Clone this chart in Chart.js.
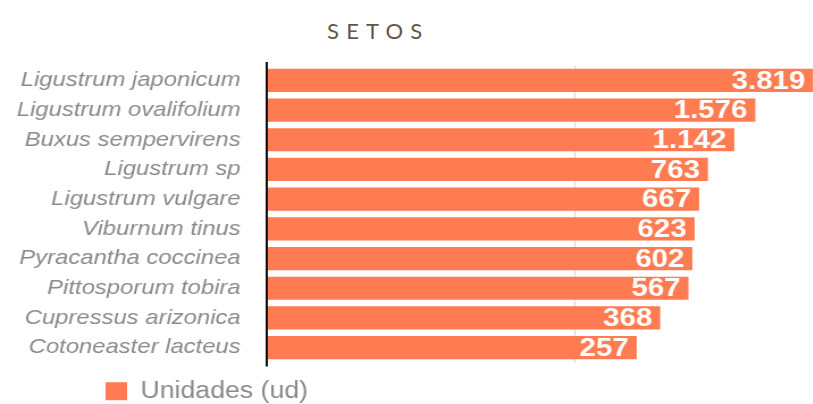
<!DOCTYPE html>
<html>
<head>
<meta charset="utf-8">
<title>Setos</title>
<script src="https://cdn.jsdelivr.net/npm/chart.js@4.4.1/dist/chart.umd.min.js"></script>
<style>
  html, body { margin: 0; padding: 0; background: #fff; overflow: hidden; }
  body { width: 813px; height: 404px; position: relative; }
  #titulo {
    position: absolute; left: 327px; top: 17px;
    font-family: Lato, sans-serif; font-weight: 400; font-size: 22px;
    letter-spacing: 7.2px; color: #62564b; white-space: nowrap;
  }
  /* el gráfico original está algo estirado en horizontal */
  #caja {
    position: absolute; left: 0; top: 0; width: 780px; height: 404px;
    transform: scaleX(1.135); transform-origin: 0 0;
  }
</style>
</head>
<body>
<div id="titulo">SETOS</div>
<div id="caja"><canvas id="grafico"></canvas></div>
<script>
// Datos
const especies = [
  "Ligustrum japonicum",
  "Ligustrum ovalifolium",
  "Buxus sempervirens",
  "Ligustrum sp",
  "Ligustrum vulgare",
  "Viburnum tinus",
  "Pyracantha coccinea",
  "Pittosporum tobira",
  "Cupressus arizonica",
  "Cotoneaster lacteus"
];
const unidades = [3819, 1576, 1142, 763, 667, 623, 602, 567, 368, 257];
const serie = "Unidades (ud)";
const lineasX = [100, 10000];

const naranja = "#ff7b51";
const gris = "#8a8a8a";
const fuente = "'Liberation Sans', Arial, sans-serif";

// Valores en blanco dentro del final de cada barra
const valores = {
  id: "valores",
  afterDatasetsDraw(chart) {
    const ctx = chart.ctx;
    const meta = chart.getDatasetMeta(0);
    ctx.save();
    ctx.font = "bold 26px " + fuente;
    ctx.fillStyle = "#fff";
    ctx.textAlign = "right";
    ctx.textBaseline = "middle";
    meta.data.forEach((bar, i) => {
      ctx.fillText(unidades[i].toLocaleString("de-DE"), bar.x - 7, bar.y + 1);
    });
    ctx.restore();
  }
};

// Eje vertical negro, un poco más largo que el área
const ejeY = {
  id: "ejeY",
  afterDraw(chart) {
    const { ctx, chartArea: a } = chart;
    ctx.save();
    ctx.strokeStyle = "#111";
    ctx.lineWidth = 2;
    ctx.beginPath();
    ctx.moveTo(a.left, a.top - 3.5);
    ctx.lineTo(a.left, a.bottom + 4);
    ctx.stroke();
    ctx.restore();
  }
};

// La leyenda va desplazada a la derecha y algo más abajo
const moverLeyenda = {
  id: "moverLeyenda",
  afterLayout(chart) {
    const l = chart.legend;
    if (!l) return;
    l.left += 85;
    l.top += 9;
    l.bottom += 9;
  }
};

const ctx = document.getElementById("grafico").getContext("2d");

new Chart(ctx, {
  type: "bar",
  data: {
    labels: especies,
    datasets: [{
      label: serie,
      data: unidades,
      backgroundColor: naranja,
      borderWidth: 0,
      barPercentage: 0.78,
      categoryPercentage: 1
    }]
  },
  options: {
    indexAxis: "y",
    responsive: true,
    maintainAspectRatio: false,
    animation: false,
    layout: { padding: { left: 0, top: 65.5, right: 8, bottom: 0 } },
    scales: {
      x: {
        type: "logarithmic",
        min: 0.9,
        max: 10000,
        afterBuildTicks: s => { s.ticks = lineasX.map(v => ({ value: v })); },
        ticks: { display: false },
        grid: { color: "#d6d6d6", drawTicks: false },
        border: { display: false }
      },
      y: {
        afterFit: s => { s.width = 235; },
        ticks: {
          color: gris,
          padding: 23,
          font: { family: fuente, size: 21, style: "italic" }
        },
        grid: { display: false, drawTicks: false },
        border: { display: false }
      }
    },
    plugins: {
      legend: {
        position: "bottom",
        align: "start",
        labels: {
          color: gris,
          boxWidth: 19,
          boxHeight: 18,
          padding: 8,
          font: { family: fuente, size: 23.5 }
        }
      },
      tooltip: { enabled: false }
    }
  },
  plugins: [valores, ejeY, moverLeyenda]
});
</script>
</body>
</html>
